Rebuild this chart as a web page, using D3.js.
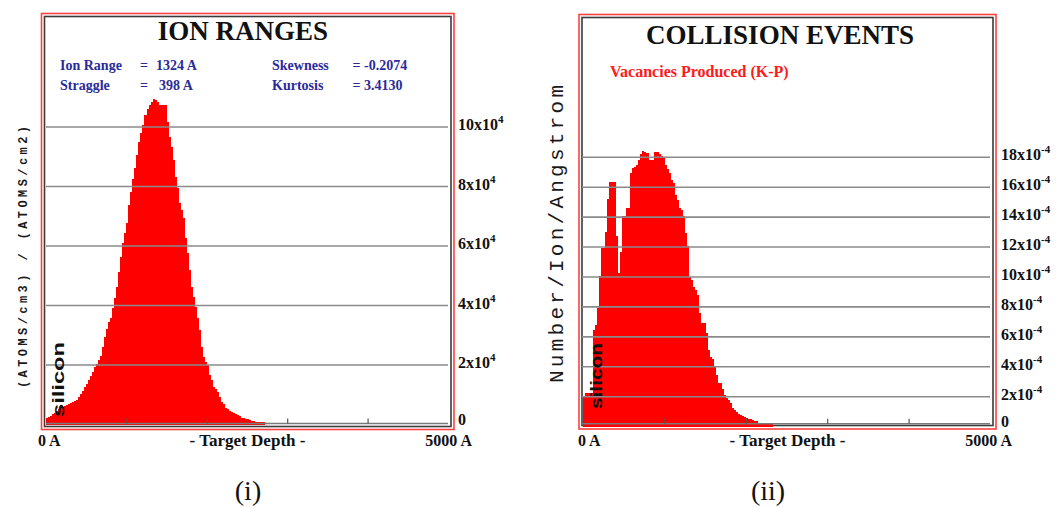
<!DOCTYPE html>
<html>
<head>
<meta charset="utf-8">
<script src="https://cdn.jsdelivr.net/npm/d3@7/dist/d3.min.js"></script>
<style>
  html, body { margin: 0; padding: 0; background: #fff; }
  svg { display: block; }
</style>
</head>
<body>
<svg id="chart" width="1056" height="508"></svg>
<script>
// Depth histograms: every bin is 25 Å wide, starting at the surface (0 Å).
const binWidthA = 25;

// Ion range distribution, in units of 1e4 (atoms/cm3)/(atoms/cm2)
const ionRangeValues = [
  0.22, 0.25, 0.30, 0.34, 0.40, 0.47, 0.51, 0.55, 0.58, 0.62,
  0.66, 0.69, 0.72, 0.76, 0.80, 0.84, 0.92, 1.02, 1.12, 1.25,
  1.35, 1.48, 1.62, 1.78, 1.92, 2.04, 2.18, 2.30, 2.62, 2.95,
  3.20, 3.45, 3.57, 3.91, 4.24, 4.63, 5.14, 5.64, 6.09, 6.43,
  6.76, 7.38, 7.80, 8.24, 8.61, 9.06, 9.51, 9.79, 10.07, 10.40,
  10.60, 10.74, 10.85, 10.93, 10.91, 10.85, 10.74, 10.74, 10.74, 10.74,
  10.18, 9.67, 9.34, 8.89, 8.33, 7.94, 7.44, 7.20, 6.93, 6.26,
  5.75, 5.19, 4.63, 4.30, 3.96, 3.57, 3.18, 2.62, 2.28, 2.10,
  2.00, 1.66, 1.50, 1.27, 1.18, 1.10, 0.93, 0.77, 0.69, 0.55,
  0.52, 0.47, 0.42, 0.39, 0.35, 0.31, 0.27, 0.23, 0.21, 0.19,
  0.17, 0.15, 0.13, 0.12, 0.10, 0.09, 0.08, 0.07, 0.07
];

// Vacancies produced (Kinchin-Pease), in units of 1e-4 number/ion/Angstrom
const vacancyValues = [
  2.00, 2.23, 2.23, 2.23, 2.23, 6.47, 6.80, 7.92, 10.08, 11.93,
  11.93, 13.04, 15.21, 16.32, 16.32, 16.32, 12.71, 10.30, 11.64, 14.09,
  14.09, 14.61, 14.61, 16.95, 17.28, 17.35, 17.50, 17.84, 18.24, 18.40,
  18.35, 18.29, 17.84, 17.84, 17.84, 18.33, 18.33, 18.25, 18.10, 18.02,
  17.50, 17.20, 16.95, 16.50, 16.28, 15.50, 15.16, 14.60, 14.50, 14.05,
  12.94, 12.04, 10.03, 9.80, 9.36, 9.10, 8.81, 7.58, 6.92, 6.92,
  6.25, 5.13, 4.68, 4.50, 4.01, 3.46, 2.90, 2.90, 2.50, 2.12,
  1.90, 1.75, 1.57, 1.27, 1.12, 1.00, 0.85, 0.78, 0.72, 0.65,
  0.56, 0.52, 0.48, 0.44, 0.40, 0.35, 0.27, 0.27, 0.27, 0.26,
  0.26, 0.25, 0.25
];

// Axis ticks
const depthTicks = [1000, 2000, 3000, 4000];
const ionTicks = [0, 2, 4, 6, 8, 10];
const ionTickMantissa = ["0", "2x10", "4x10", "6x10", "8x10", "10x10"];
const ionTickExponent = ["", "4", "4", "4", "4", "4"];
const vacancyTicks = [0, 2, 4, 6, 8, 10, 12, 14, 16, 18];
const vacancyTickMantissa = ["0", "2x10", "4x10", "6x10", "8x10", "10x10", "12x10", "14x10", "16x10", "18x10"];
const vacancyTickExponent = ["", "-4", "-4", "-4", "-4", "-4", "-4", "-4", "-4", "-4"];

// Text
const ionTitle = "ION RANGES";
const ionStats = [
  ["Ion Range", "=", "1324 A"],
  ["Straggle", "=", "398 A"],
  ["Skewness", "= -0.2074", ""],
  ["Kurtosis", "= 3.4130", ""]
];
const ionYTitle = "(ATOMS/cm3) / (ATOMS/cm2)";
const vacancyTitle = "COLLISION EVENTS";
const vacancyLegend = "Vacancies Produced (K-P)";
const vacancyYTitle = "Number/Ion/Angstrom";
const targetName = "silicon";
const depthLabels = ["0 A", "- Target Depth -", "5000 A"];
const captions = ["(i)", "(ii)"];

const SERIF = "'Liberation Serif', 'Times New Roman', serif";
const MONO = "'Liberation Mono', 'Courier New', monospace";
const SANS = "'Liberation Sans', Arial, sans-serif";

const svg = d3.select("#chart");

function drawPanel(cfg) {
  const g = svg.append("g");

  // frames: thin red outer border and dark inner border
  g.append("rect")
    .attr("x", cfg.red[0]).attr("y", cfg.red[1])
    .attr("width", cfg.red[2] - cfg.red[0]).attr("height", cfg.red[3] - cfg.red[1])
    .attr("fill", "none").attr("stroke", "#ff4040").attr("stroke-width", 1.6);
  g.append("rect")
    .attr("x", cfg.dark[0]).attr("y", cfg.dark[1])
    .attr("width", cfg.dark[2] - cfg.dark[0]).attr("height", cfg.dark[3] - cfg.dark[1])
    .attr("fill", "none").attr("stroke", "#3a3a3a").attr("stroke-width", 1.6);

  const x = d3.scaleLinear().domain([0, 5000]).range([cfg.x0, cfg.x1]);
  const y = d3.scaleLinear().domain([0, cfg.yMaxTick]).range([cfg.y0, cfg.yTop]);

  // histogram bars
  g.append("g").selectAll("rect")
    .data(cfg.values)
    .join("rect")
    .attr("x", (d, i) => x(i * binWidthA))
    .attr("width", (d, i) => x((i + 1) * binWidthA) - x(i * binWidthA) + 0.4)
    .attr("y", d => y(d))
    .attr("height", d => y(0) - y(d))
    .attr("fill", "#ff0000")
    .attr("shape-rendering", "crispEdges");

  // horizontal grid lines
  g.append("g").selectAll("line")
    .data(cfg.ticks.filter(t => t > 0))
    .join("line")
    .attr("x1", cfg.gridX0).attr("x2", cfg.gridX1)
    .attr("y1", d => y(d)).attr("y2", d => y(d))
    .attr("stroke", "#8a8a8a").attr("stroke-width", 1.6);

  // depth axis along the bottom, ticks pointing up
  const ax = g.append("g")
    .attr("transform", `translate(0,${cfg.axisY})`)
    .call(d3.axisBottom(x).tickValues(depthTicks).tickSize(-5).tickSizeOuter(0).tickFormat(""));
  ax.select(".domain").attr("stroke", "#7a7a7a").attr("stroke-width", 1.6)
    .attr("d", `M${cfg.gridX0},0H${cfg.gridX1}`);
  ax.selectAll(".tick line").attr("stroke", "#555").attr("stroke-width", 1.2);

  // tick labels on the right, with exponent as superscript
  const lab = g.append("g").selectAll("text")
    .data(cfg.ticks)
    .join("text")
    .attr("x", cfg.labelX)
    .attr("y", (d, i) => y(d) + (i === 0 ? 0 : 3))
    .attr("font-family", SERIF).attr("font-weight", "bold")
    .attr("font-size", 16).attr("fill", "#111");
  lab.append("tspan").text((d, i) => cfg.mantissa[i]);
  lab.append("tspan")
    .attr("dy", -7).attr("font-size", 11)
    .text((d, i) => cfg.exponent[i]);

  // title
  g.append("text")
    .attr("x", cfg.titleX).attr("y", cfg.titleY)
    .attr("text-anchor", "middle")
    .attr("font-family", SERIF).attr("font-weight", "bold")
    .attr("font-size", 27).attr("fill", "#111")
    .text(cfg.title);

  // target material label, rotated
  g.append("text")
    .attr("transform", `translate(${cfg.siliconX},${cfg.siliconY}) rotate(-90)`)
    .attr("font-family", SANS).attr("font-weight", "bold")
    .attr("font-size", 16).attr("fill", "#111")
    .attr("textLength", cfg.siliconLen).attr("lengthAdjust", "spacingAndGlyphs")
    .text(targetName);

  // depth labels under the axis
  const dl = g.append("g").attr("font-family", SERIF).attr("font-weight", "bold")
    .attr("font-size", 16).attr("fill", "#111");
  dl.append("text").attr("x", cfg.zeroLabelX).attr("y", 446).text(depthLabels[0]);
  dl.append("text").attr("x", cfg.midLabelX).attr("y", 446).attr("text-anchor", "middle")
    .attr("textLength", 116).attr("lengthAdjust", "spacingAndGlyphs").text(depthLabels[1]);
  dl.append("text").attr("x", cfg.endLabelX).attr("y", 446).attr("text-anchor", "end").text(depthLabels[2]);

  // vertical axis title
  g.append("text")
    .attr("transform", `translate(${cfg.yTitleX},${cfg.yTitleY}) rotate(-90)`)
    .attr("text-anchor", "middle")
    .attr("font-family", MONO).attr("font-weight", cfg.yTitleWeight)
    .attr("font-size", cfg.yTitleSize).attr("fill", "#1a1a1a")
    .attr("textLength", cfg.yTitleLen).attr("lengthAdjust", "spacing")
    .text(cfg.yTitle);

  // panel caption
  svg.append("text")
    .attr("x", cfg.captionX).attr("y", 500)
    .attr("text-anchor", "middle")
    .attr("font-family", SERIF).attr("font-size", 28).attr("fill", "#111")
    .text(cfg.caption);

  return g;
}

// (i) ion ranges
const gIon = drawPanel({
  red: [41.5, 13.5, 454, 429.5],
  dark: [44.5, 16.5, 451, 426.5],
  x0: 46, x1: 448, gridX0: 46, gridX1: 448,
  y0: 424.5, yTop: 127, yMaxTick: 10, axisY: 423.5,
  values: ionRangeValues, ticks: ionTicks,
  mantissa: ionTickMantissa, exponent: ionTickExponent,
  labelX: 458, title: ionTitle, titleX: 243, titleY: 40,
  siliconX: 64, siliconY: 417, siliconLen: 75,
  zeroLabelX: 38, midLabelX: 247.5, endLabelX: 472,
  yTitle: ionYTitle, yTitleX: 27, yTitleY: 257, yTitleSize: 12, yTitleWeight: "bold", yTitleLen: 262,
  caption: captions[0], captionX: 248
});

const statsG = gIon.append("g")
  .attr("font-family", SERIF).attr("font-weight", "bold")
  .attr("font-size", 14).attr("fill", "#2b2b99");
const statCols = [[60, 140, 156], [60, 140, 159], [272, 352.5, 0], [272, 352.5, 0]];
const statRows = [69.5, 90, 69.5, 90];
ionStats.forEach((row, i) => {
  statsG.append("text").attr("x", statCols[i][0]).attr("y", statRows[i]).text(row[0]);
  statsG.append("text").attr("x", statCols[i][1]).attr("y", statRows[i]).text(row[1]);
  if (row[2]) statsG.append("text").attr("x", statCols[i][2]).attr("y", statRows[i]).text(row[2]);
});

// (ii) collision events
const gVac = drawPanel({
  red: [579, 14.5, 996, 429],
  dark: [582, 17.5, 993, 425.5],
  x0: 583, x1: 990, gridX0: 582, gridX1: 990,
  y0: 426.6, yTop: 157.3, yMaxTick: 18, axisY: 423.8,
  values: vacancyValues, ticks: vacancyTicks,
  mantissa: vacancyTickMantissa, exponent: vacancyTickExponent,
  labelX: 1001, title: vacancyTitle, titleX: 780, titleY: 44,
  siliconX: 602, siliconY: 409, siliconLen: 66,
  zeroLabelX: 578, midLabelX: 787.5, endLabelX: 1012,
  yTitle: vacancyYTitle, yTitleX: 563, yTitleY: 234, yTitleSize: 21, yTitleWeight: "normal", yTitleLen: 298,
  caption: captions[1], captionX: 768
});

gVac.append("text")
  .attr("x", 610).attr("y", 76.7)
  .attr("font-family", SERIF).attr("font-weight", "bold")
  .attr("font-size", 16).attr("fill", "#ff1a1a")
  .text(vacancyLegend);
</script>
</body>
</html>
